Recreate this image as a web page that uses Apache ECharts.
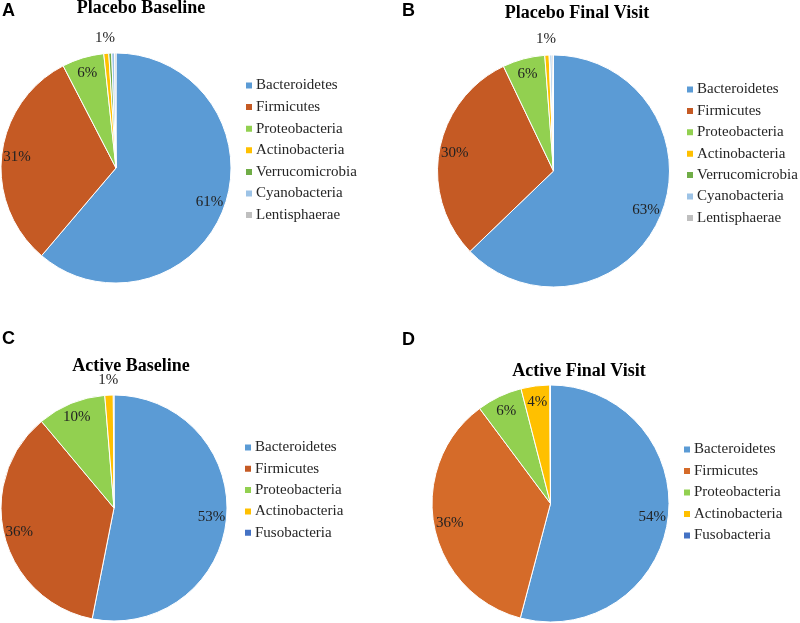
<!DOCTYPE html>
<html>
<head>
<meta charset="utf-8">
<script src="https://cdn.jsdelivr.net/npm/echarts@6/dist/echarts.min.js"></script>
<style>
  html, body { margin: 0; padding: 0; background: #fff; }
  #wrap { position: relative; width: 800px; height: 623px; }
  .panel { position: absolute; width: 400px; }
</style>
</head>
<body>
<div id="wrap">
  <div id="pA" class="panel" style="left:0;top:0;height:311px;"></div>
  <div id="pB" class="panel" style="left:400px;top:0;height:311px;"></div>
  <div id="pC" class="panel" style="left:0;top:311px;height:312px;"></div>
  <div id="pD" class="panel" style="left:400px;top:311px;height:312px;"></div>
</div>
<script>
// ---- Data ----
const placeboCategories = ['Bacteroidetes', 'Firmicutes', 'Proteobacteria', 'Actinobacteria', 'Verrucomicrobia', 'Cyanobacteria', 'Lentisphaerae'];
const activeCategories = ['Bacteroidetes', 'Firmicutes', 'Proteobacteria', 'Actinobacteria', 'Fusobacteria'];

const placeboBaseline = [61.2, 31.2, 5.9, 0.7, 0.4, 0.4, 0.2];
const placeboFinal = [62.8, 30.1, 5.9, 0.6, 0.1, 0.3, 0.2];
const activeBaseline = [53.1, 35.8, 9.8, 1.2, 0.1];
const activeFinal = [54.1, 35.7, 6.2, 3.9, 0.1];

const panelTitles = ['Placebo Baseline', 'Placebo Final Visit', 'Active Baseline', 'Active Final Visit'];
const panelLetters = ['A', 'B', 'C', 'D'];

// ---- Styles ----
const placeboColors = ['#5B9BD5', '#C55A24', '#92D050', '#FFC000', '#70AD47', '#9DC3E6', '#BFBFBF'];
const activeColorsC = ['#5B9BD5', '#C55A24', '#92D050', '#FFC000', '#4472C4'];
const activeColorsD = ['#5B9BD5', '#D56B29', '#92D050', '#FFC000', '#4472C4'];

const SERIF = '"Liberation Serif", "Times New Roman", serif';
const SANS = '"Liberation Sans", Arial, sans-serif';

const layouts = [
  { el: 'pA', cx: 116, cy: 168, r: 115, tx: 141, ty: 8.5, lx: 2, ly: 11, legLeft: 244, legTop: 78, legGap: 6.6 },
  { el: 'pB', cx: 553.5 - 400, cy: 171, r: 116, tx: 177, ty: 13, lx: 2, ly: 11, legLeft: 285, legTop: 82, legGap: 6.4 },
  { el: 'pC', cx: 114, cy: 197, r: 113, tx: 131, ty: 55, lx: 2, ly: 28.5, legLeft: 243, legTop: 129, legGap: 6.3 },
  { el: 'pD', cx: 150.5, cy: 192.5, r: 118.5, tx: 179, ty: 60, lx: 2, ly: 29.5, legLeft: 282, legTop: 131, legGap: 6.5 }
];

const panels = [
  { cats: placeboCategories, vals: placeboBaseline, colors: placeboColors },
  { cats: placeboCategories, vals: placeboFinal, colors: placeboColors },
  { cats: activeCategories, vals: activeBaseline, colors: activeColorsC },
  { cats: activeCategories, vals: activeFinal, colors: activeColorsD }
];

function build(i) {
  const L = layouts[i], P = panels[i];
  const chart = echarts.init(document.getElementById(L.el), null, { renderer: 'canvas' });
  const data = P.cats.map((n, k) => ({ name: n, value: P.vals[k], itemStyle: { color: P.colors[k] } }));
  const ghost = P.cats.map((n, k) => ({ name: n, value: P.vals[k] }));
  const labelStyle = { fontFamily: SERIF, fontSize: 15, color: '#222' };
  const common = {
    type: 'pie',
    center: [L.cx, L.cy],
    startAngle: 90,
    clockwise: true,
    animation: false,
    emphasis: { disabled: true },
    labelLine: { show: false },
    avoidLabelOverlap: false
  };
  chart.setOption({
    animation: false,
    legend: {
      orient: 'vertical',
      left: L.legLeft,
      top: L.legTop,
      icon: 'rect',
      itemWidth: 8,
      itemHeight: 8,
      itemGap: L.legGap,
      padding: 0,
      selectedMode: false,
      textStyle: { fontFamily: SERIF, fontSize: 15, color: '#262626', lineHeight: 15, padding: [0, 0, 0, -2] },
      data: P.cats
    },
    graphic: [
      { type: 'text', x: L.lx, y: L.ly, style: { text: panelLetters[i], font: 'bold 18px ' + SANS, fill: '#000', align: 'left', verticalAlign: 'middle' } },
      { type: 'text', x: L.tx, y: L.ty, style: { text: panelTitles[i], font: 'bold 18px ' + SERIF, fill: '#000', align: 'center', verticalAlign: 'middle' } }
    ],
    series: [
      Object.assign({}, common, {
        name: 'main',
        radius: [0, L.r],
        itemStyle: { borderColor: '#fff', borderWidth: 1 },
        label: { show: false },
        data: data
      }),
      Object.assign({}, common, {
        name: 'inner labels',
        radius: [L.r * 0.68, L.r],
        silent: true,
        itemStyle: { color: 'rgba(0,0,0,0)', borderWidth: 0 },
        label: Object.assign({ show: true, position: 'inside',
          formatter: p => (p.percent >= 3 ? Math.round(p.percent) + '%' : '') }, labelStyle),
        data: ghost
      }),
      Object.assign({}, common, {
        name: 'outer labels',
        radius: [L.r, L.r * 1.22],
        silent: true,
        itemStyle: { color: 'rgba(0,0,0,0)', borderWidth: 0 },
        label: Object.assign({ show: true, position: 'inside',
          formatter: p => (p.percent >= 0.5 && p.percent < 3 ? Math.round(p.percent) + '%' : '') }, labelStyle),
        data: ghost
      })
    ]
  });
}

for (let i = 0; i < 4; i++) build(i);
</script>
</body>
</html>
